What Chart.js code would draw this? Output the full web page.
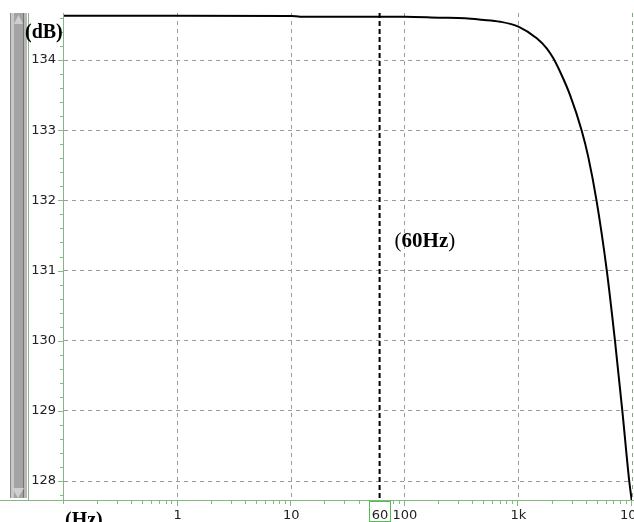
<!DOCTYPE html>
<html>
<head>
<meta charset="utf-8">
<script src="https://cdn.jsdelivr.net/npm/chart.js@4/dist/chart.umd.min.js"></script>
<style>
  html, body { margin: 0; padding: 0; background: #fff; overflow: hidden; }
  canvas { display: block; }
</style>
</head>
<body>
<canvas id="c" width="634" height="522"></canvas>
<script>
// Frequency response: level (dB) against frequency (Hz)
const freqHz  = [0.1, 1, 10, 12, 100, 200, 340, 475, 690, 1000, 1450, 1775, 2030, 2400, 2850, 3600, 4120, 4870, 6000, 7080, 8220, 9470, 10000];
const levelDb = [134.631, 134.630, 134.627, 134.618, 134.616, 134.603, 134.594, 134.574, 134.546, 134.475, 134.309, 134.167, 134.024, 133.786, 133.50, 133.0, 132.62, 132.0, 131.0, 130.0, 129.0, 127.99, 127.7];

// Cursor frequency
const markerHz = 60;
const markerLabel = '60Hz';
const markerLabelDb = 131.33;

// Axis ranges and tick labels
const xRange = [0.1, 10000];
const yRange = [127.73, 134.67];
const xDecadeLabels = { 1: '1', 10: '10', 100: '100', 1000: '1k', 10000: '10k' };
const yMajorTicks = [128, 129, 130, 131, 132, 133, 134];
const yMinorStep = 0.2;
const xUnit = '(Hz)';
const yUnit = '(dB)';

const AXIS_GREEN = '#86b886';
const GRID_GRAY = '#9c9c9c';
const TICK_FONT = { family: 'DejaVu Sans', size: 13 };

function isDecade(v) { return Object.prototype.hasOwnProperty.call(xDecadeLabels, v); }
function isMajorY(v) { return yMajorTicks.indexOf(v) !== -1; }

const curvePoints = freqHz.map((f, i) => ({ x: f, y: levelDb[i] }));
const markerPoints = [{ x: markerHz, y: yRange[1] }, { x: markerHz, y: yRange[0] }];

const decorPlugin = {
  id: 'decor',
  beforeDraw(chart) {
    const ctx = chart.ctx;
    const a = chart.chartArea;
    ctx.save();
    ctx.fillStyle = '#fff';
    ctx.fillRect(0, 0, chart.width, chart.height);
    // scroll bar at the left
    const top = a.top, bot = a.bottom - 2;
    const cols = [[10, 1, '#8a8a8a'], [11, 3, '#c8c8c8'], [14, 9, '#a4a4a4'], [23, 1, '#747474'], [24, 3, '#b8b8b8']];
    cols.forEach(c => { ctx.fillStyle = c[2]; ctx.fillRect(c[0], top, c[1], bot - top); });
    ctx.fillStyle = '#cfcfcf';
    ctx.beginPath(); ctx.moveTo(14, top + 11); ctx.lineTo(18.5, top + 2); ctx.lineTo(23, top + 11); ctx.closePath(); ctx.fill();
    ctx.beginPath(); ctx.moveTo(12, bot - 10); ctx.lineTo(24, bot - 10); ctx.lineTo(18, bot); ctx.closePath(); ctx.fill();
    ctx.restore();
  },
  afterDraw(chart) {
    const ctx = chart.ctx;
    const a = chart.chartArea;
    const xs = chart.scales.x, ys = chart.scales.y;
    ctx.save();
    // axis lines
    ctx.strokeStyle = AXIS_GREEN;
    ctx.lineWidth = 1;
    ctx.beginPath();
    ctx.moveTo(0, a.bottom + 0.5); ctx.lineTo(chart.width, a.bottom + 0.5);
    ctx.moveTo(a.left - 0.5, a.top); ctx.lineTo(a.left - 0.5, a.bottom);
    ctx.moveTo(28.5, a.top); ctx.lineTo(28.5, a.bottom);
    ctx.stroke();
    // tick marks
    ctx.beginPath();
    ys.ticks.forEach(t => {
      const py = Math.round(ys.getPixelForValue(t.value)) + 0.5;
      const len = isMajorY(t.value) ? 6 : 4;
      ctx.moveTo(a.left - len, py); ctx.lineTo(a.left, py);
    });
    xs.ticks.forEach(t => {
      const px = Math.round(xs.getPixelForValue(t.value)) - 0.5;
      const len = isDecade(t.value) ? 6 : 4;
      ctx.moveTo(px, a.bottom); ctx.lineTo(px, a.bottom + len);
    });
    ctx.stroke();
    // boxed cursor frequency on the x axis
    const mx = xs.getPixelForValue(markerHz);
    ctx.strokeStyle = '#4cc24c';
    ctx.strokeRect(Math.round(mx) - 10.5, a.bottom + 1.5, 21, 20);
    ctx.fillStyle = '#fff';
    ctx.fillRect(Math.round(mx) - 10, a.bottom + 2, 20, 19);
    ctx.fillStyle = '#222';
    ctx.font = TICK_FONT.size + 'px "' + TICK_FONT.family + '"';
    ctx.textAlign = 'center';
    ctx.textBaseline = 'middle';
    ctx.fillText(String(markerHz), Math.round(mx), 515.5);
    // unit labels
    ctx.fillStyle = '#000';
    ctx.textAlign = 'left';
    ctx.textBaseline = 'alphabetic';
    ctx.font = 'bold 20px "Liberation Serif"';
    ctx.fillText(yUnit, 25, 38);
    ctx.fillText(xUnit, 65, 526);
    // cursor label
    const ly = ys.getPixelForValue(markerLabelDb);
    let lx = mx + 15;
    ctx.font = '21px "Liberation Serif"';
    ctx.fillText('(', lx, ly);
    lx += ctx.measureText('(').width;
    ctx.font = 'bold 21px "Liberation Serif"';
    ctx.fillText(markerLabel, lx, ly);
    lx += ctx.measureText(markerLabel).width;
    ctx.font = '21px "Liberation Serif"';
    ctx.fillText(')', lx, ly);
    ctx.restore();
  }
};

new Chart(document.getElementById('c'), {
  type: 'line',
  data: {
    datasets: [
      {
        data: curvePoints,
        borderColor: '#000',
        borderWidth: 2,
        pointRadius: 0,
        cubicInterpolationMode: 'monotone',
        fill: false
      },
      {
        data: markerPoints,
        borderColor: '#000',
        borderWidth: 2,
        borderDash: [5, 3],
        pointRadius: 0,
        fill: false
      }
    ]
  },
  options: {
    responsive: false,
    animation: false,
    devicePixelRatio: 1,
    events: [],
    layout: { padding: { top: 13, right: 2, left: 0, bottom: 0 } },
    plugins: { legend: { display: false }, tooltip: { enabled: false } },
    scales: {
      x: {
        type: 'logarithmic',
        min: xRange[0],
        max: xRange[1],
        border: { display: false, dash: [4, 4] },
        grid: {
          drawTicks: false,
          color: c => {
            const v = c.tick && c.tick.value;
            if (!isDecade(v)) return 'rgba(0,0,0,0)';
            return v === xRange[1] ? '#7fa87f' : GRID_GRAY;
          }
        },
        ticks: {
          autoSkip: false,
          maxRotation: 0,
          minRotation: 0,
          padding: 8,
          color: '#222',
          font: TICK_FONT,
          callback: v => xDecadeLabels[v] || ''
        },
        afterBuildTicks: s => {
          const t = [];
          for (let e = -1; e <= 3; e++) {
            for (let m = 1; m <= 9; m++) {
              t.push({ value: +(m * Math.pow(10, e)).toPrecision(6) });
            }
          }
          t.push({ value: xRange[1] });
          s.ticks = t;
        },
        afterFit: s => { s.height = 22; s.paddingLeft = 0; s.paddingRight = 0; }
      },
      y: {
        type: 'linear',
        min: yRange[0],
        max: yRange[1],
        border: { display: false, dash: [4, 4] },
        grid: {
          drawTicks: false,
          color: c => (c.tick && isMajorY(c.tick.value)) ? GRID_GRAY : 'rgba(0,0,0,0)'
        },
        ticks: {
          autoSkip: false,
          padding: 8,
          color: '#222',
          font: TICK_FONT,
          callback: v => isMajorY(v) ? String(v) : ''
        },
        afterBuildTicks: s => {
          const t = [];
          for (let v = Math.ceil(yRange[0] / yMinorStep) * yMinorStep; v <= yRange[1]; v += yMinorStep) {
            t.push({ value: Math.round(v * 10) / 10 });
          }
          s.ticks = t;
        },
        afterFit: s => { s.width = 64; s.paddingTop = 0; s.paddingBottom = 0; }
      }
    }
  },
  plugins: [decorPlugin]
});
</script>
</body>
</html>
